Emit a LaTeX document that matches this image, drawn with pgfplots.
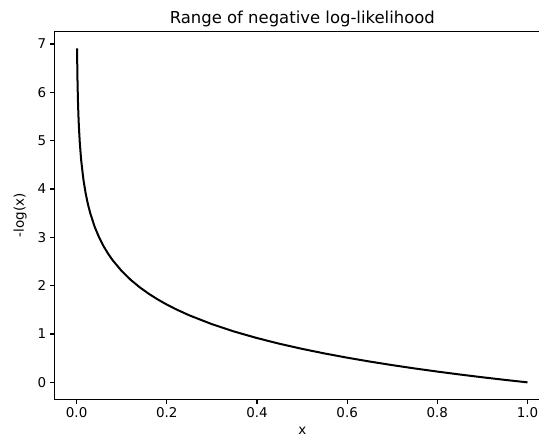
\documentclass[border=0pt]{standalone}
\usepackage{fontspec}
\setmainfont{DejaVu Sans}
\usepackage{pgfplots}
\pgfplotsset{compat=1.18}
\begin{document}
\begin{tikzpicture}
\begin{axis}[
  scale only axis,
  width=495bp, height=367bp,
  xmin=-0.04895, xmax=1.04995,
  ymin=-0.3454, ymax=7.2532,
  xtick={0,0.2,0.4,0.6,0.8,1.0},
  xticklabels={0.0,0.2,0.4,0.6,0.8,1.0},
  ytick={0,1,2,3,4,5,6,7},
  /pgf/number format/assume math mode=true,
  tick label style={font=\fontsize{13.5}{16}\selectfont},
  label style={font=\fontsize{13.5}{16}\selectfont},
  tick align=outside, tick pos=left,
  major tick length=4.9bp,
  every tick/.style={black, line width=1.1bp},
  axis line style={line width=1.1bp},
  xlabel={x}, ylabel={-log(x)},
  xlabel style={yshift=-3bp},
  ylabel style={yshift=4bp},
  title={Range of negative log-likelihood},
  title style={font=\fontsize{16.5}{19}\selectfont, yshift=-5bp},
]
\addplot[black, line width=2bp, mark=none] coordinates {
  (0.001,6.9078) (0.0015,6.5023) (0.002,6.2146) (0.003,5.8091)
  (0.004,5.5215) (0.005,5.2983) (0.007,4.9618) (0.01,4.6052)
  (0.015,4.1997) (0.02,3.9120) (0.025,3.6889) (0.03,3.5066)
  (0.04,3.2189) (0.05,2.9957) (0.06,2.8134) (0.07,2.6593)
  (0.08,2.5257) (0.1,2.3026) (0.12,2.1203) (0.14,1.9661)
  (0.16,1.8326) (0.18,1.7148) (0.2,1.6094) (0.22,1.5141)
  (0.25,1.3863) (0.3,1.2040) (0.35,1.0498) (0.4,0.9163)
  (0.45,0.7985) (0.5,0.6931) (0.55,0.5978) (0.6,0.5108)
  (0.65,0.4308) (0.7,0.3567) (0.75,0.2877) (0.8,0.2231)
  (0.85,0.1625) (0.9,0.1054) (0.95,0.0513) (1.0,0)
};
\coordinate (bl) at (rel axis cs:0,0);
\coordinate (tr) at (rel axis cs:1,1);
\end{axis}
\pgfresetboundingbox
\path ([shift={(-54.5bp,-39bp)}]bl) rectangle ([shift={(-11bp,31.7bp)}]tr);
\end{tikzpicture}
\end{document}
